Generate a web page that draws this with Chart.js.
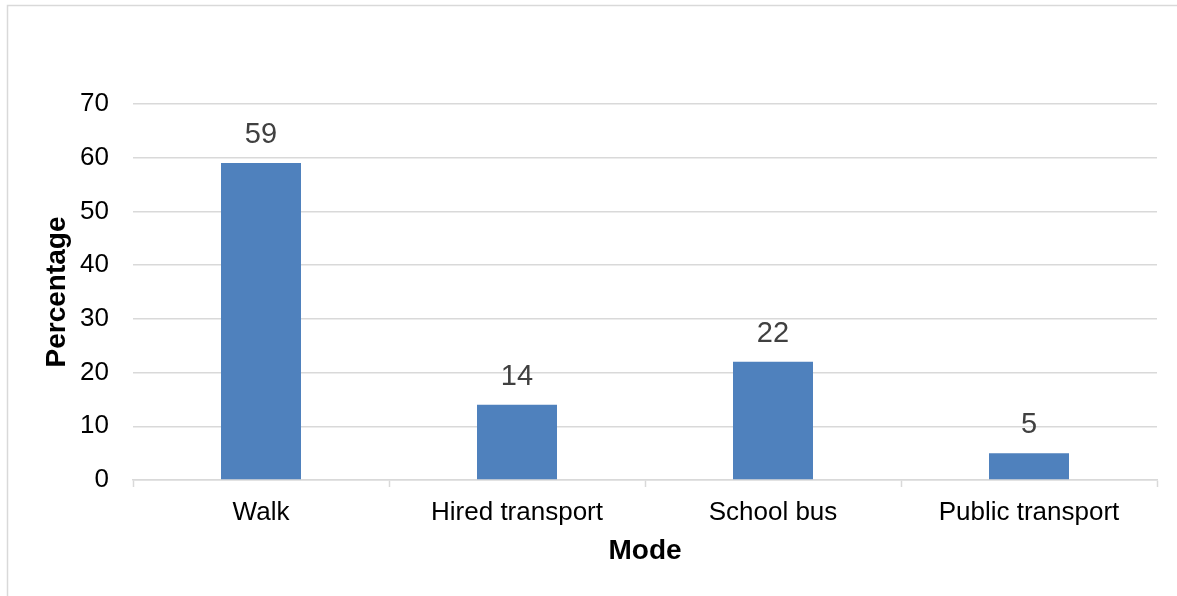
<!DOCTYPE html>
<html>
<head>
<meta charset="utf-8">
<title>Mode of transport</title>
<script src="https://cdn.jsdelivr.net/npm/chart.js@4"></script>
<style>
    html, body { margin: 0; padding: 0; background: #fff; overflow: hidden; }
    #wrap { position: relative; width: 1177px; height: 596px; }
</style>
</head>
<body>
<div id="wrap"><canvas id="modeChart" width="1177" height="596"></canvas></div>
<script>
// Share of pupils by mode of travel (%)
const modes = ['Walk', 'Hired transport', 'School bus', 'Public transport'];
const shares = [59, 14, 22, 5];
const yTicks = [0, 10, 20, 30, 40, 50, 60, 70];

const FONT = "'Liberation Sans', Arial, sans-serif";
const GRID = '#d9d9d9';

// light frame round the chart, like an Office chart box
const framePlugin = {
    id: 'frame',
    beforeDraw(chart) {
        const ctx = chart.ctx;
        ctx.save();
        ctx.strokeStyle = GRID;
        ctx.lineWidth = 1.5;
        ctx.strokeRect(7.5, 5.5, 1300, 700);
        ctx.restore();
    }
};

// value above each bar
const valueLabels = {
    id: 'valueLabels',
    afterDatasetsDraw(chart) {
        const ctx = chart.ctx;
        const meta = chart.getDatasetMeta(0);
        ctx.save();
        ctx.font = '29px ' + FONT;
        ctx.fillStyle = '#404040';
        ctx.textAlign = 'center';
        ctx.textBaseline = 'middle';
        meta.data.forEach((bar, i) => {
            ctx.fillText(String(shares[i]), bar.x, bar.y - 28);
        });
        ctx.restore();
    }
};

const ctx = document.getElementById('modeChart').getContext('2d');
new Chart(ctx, {
    type: 'bar',
    data: {
        labels: modes,
        datasets: [{
            data: shares,
            backgroundColor: '#4f81bd',
            borderWidth: 0,
            categoryPercentage: 1,
            barPercentage: 0.3125
        }]
    },
    options: {
        responsive: false,
        animation: false,
        layout: { padding: { top: 104, right: 20, bottom: 0, left: 0 } },
        plugins: {
            legend: { display: false },
            tooltip: { enabled: false }
        },
        scales: {
            x: {
                offset: true,
                border: { display: true, color: GRID, width: 1.5 },
                grid: {
                    offset: true,
                    drawOnChartArea: false,
                    drawTicks: true,
                    tickLength: 7,
                    tickColor: GRID,
                    tickWidth: 1.5
                },
                ticks: {
                    color: '#000',
                    padding: 10,
                    font: { family: FONT, size: 26 },
                    maxRotation: 0
                },
                title: {
                    display: true,
                    text: 'Mode',
                    color: '#000',
                    font: { family: FONT, size: 28, weight: 'bold' },
                    padding: { top: 0, bottom: 28 }
                },
                afterFit(scale) { scale.height = 596 - 480; }
            },
            y: {
                min: 0,
                max: 70,
                afterBuildTicks(scale) { scale.ticks = yTicks.map(v => ({ value: v })); },
                border: { display: false },
                grid: { color: GRID, lineWidth: 1.5, drawTicks: false },
                ticks: {
                    color: '#000',
                    padding: 24,
                    font: { family: FONT, size: 26 }
                },
                title: {
                    display: true,
                    text: 'Percentage',
                    color: '#000',
                    font: { family: FONT, size: 28, weight: 'bold' },
                    padding: { top: 40, bottom: 0 }
                },
                afterFit(scale) { scale.width = 133; }
            }
        }
    },
    plugins: [framePlugin, valueLabels]
});
</script>
</body>
</html>
